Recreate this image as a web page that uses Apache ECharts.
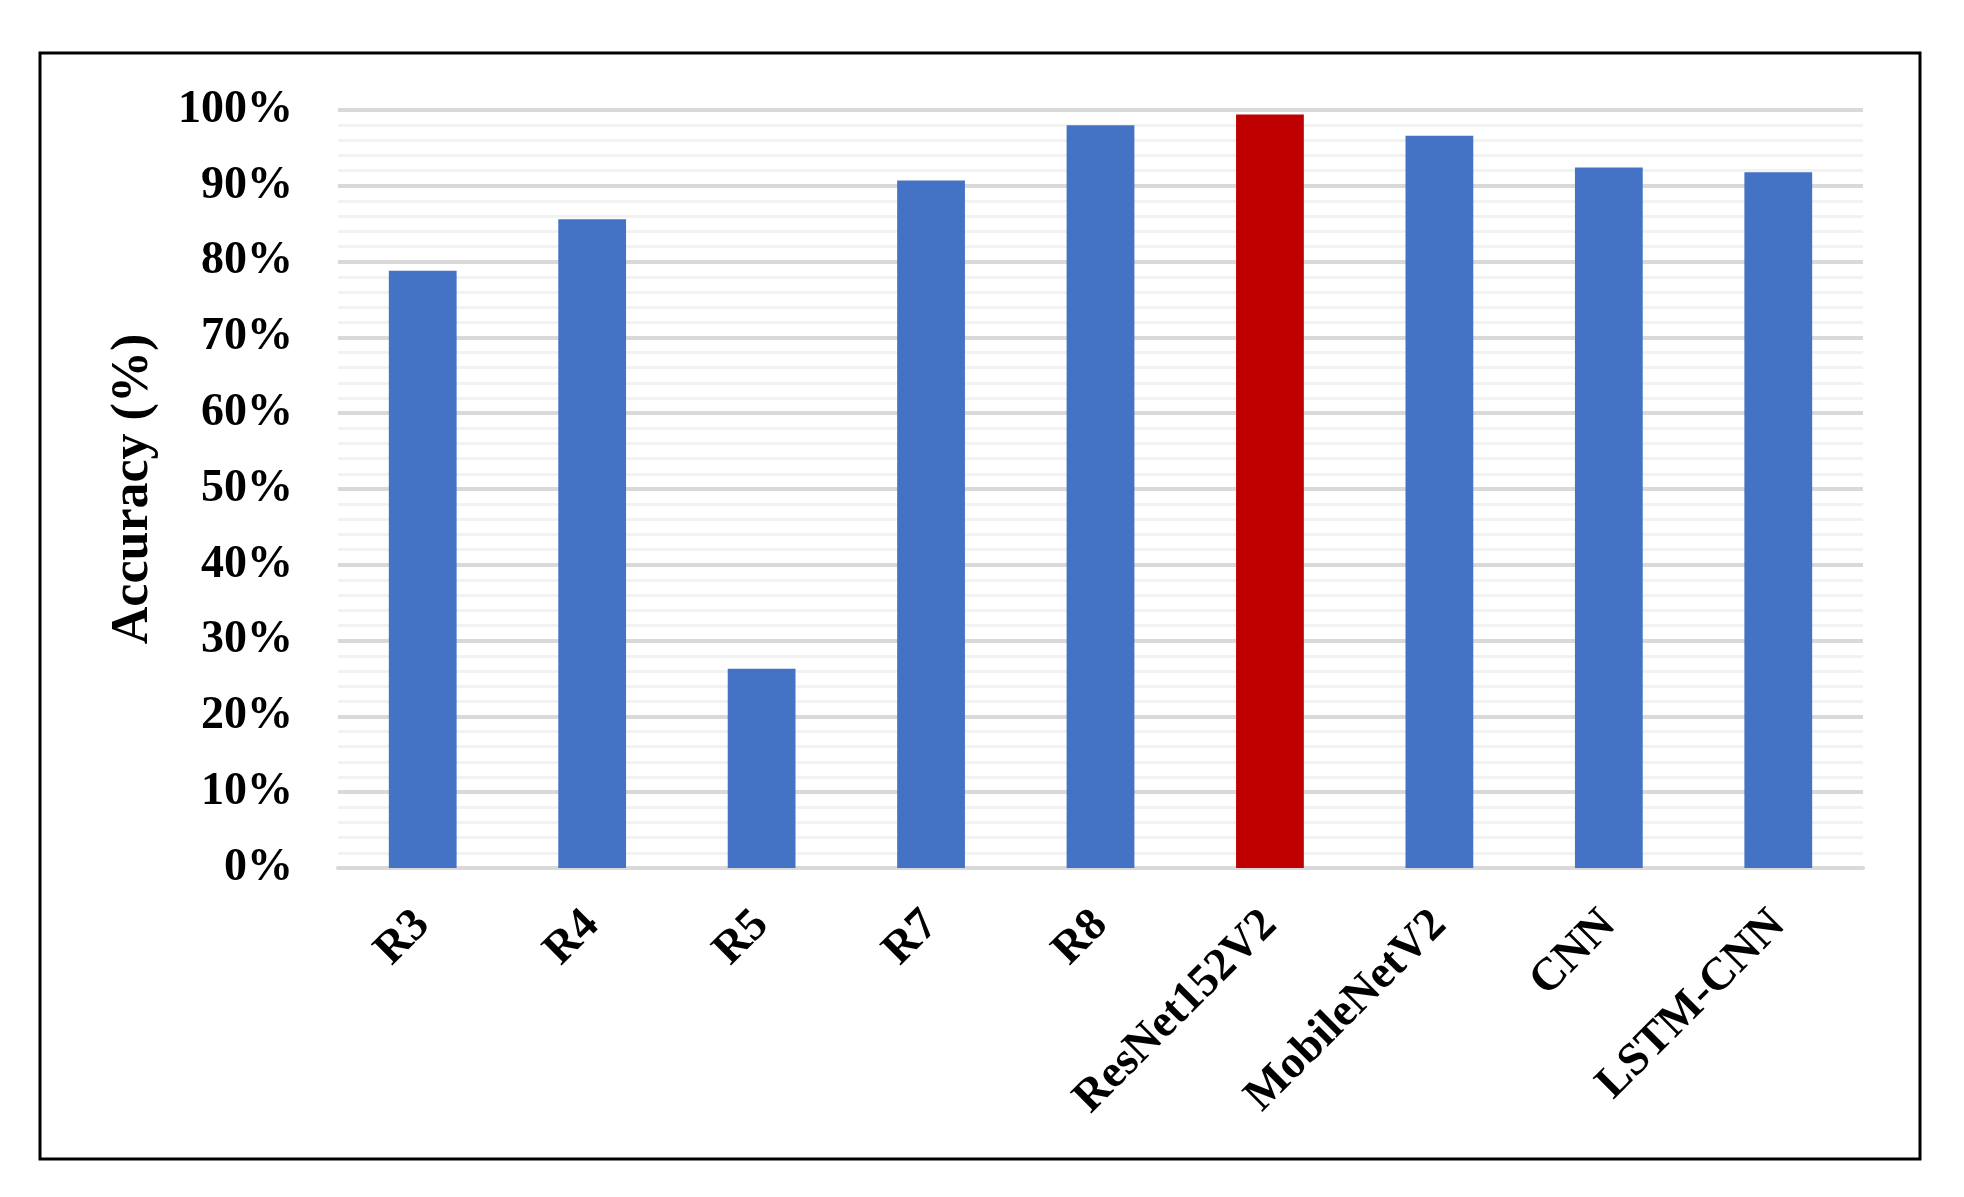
<!DOCTYPE html>
<html>
<head>
	<meta charset="utf-8" />
	<title>Accuracy</title>
	<script src="https://cdn.jsdelivr.net/npm/echarts@6/dist/echarts.min.js"></script>
	<style>
		html, body { margin: 0; padding: 0; background: #fff; }
		#chart { width: 1964px; height: 1197px; }
	</style>
</head>
<body>
<div id="chart"></div>
<script type="text/javascript">
	// model names and accuracy (%)
	var models = ['R3', 'R4', 'R5', 'R7', 'R8', 'ResNet152V2', 'MobileNetV2', 'CNN', 'LSTM-CNN'];
	var accuracy = [78.8, 85.6, 26.3, 90.7, 98.0, 99.4, 96.6, 92.4, 91.8];
	var bestModel = 'ResNet152V2';

	var font = '"Times New Roman", "Liberation Serif", serif';

	var barData = accuracy.map(function (v, i) {
		return {
			value: v,
			itemStyle: { color: models[i] === bestModel ? '#C00000' : '#4472C4' }
		};
	});

	var myChart = echarts.init(document.getElementById('chart'));
	var option = {
		backgroundColor: '#fff',
		animation: false,
		graphic: [{
			type: 'rect',
			shape: { x: 40, y: 53, width: 1880, height: 1106 },
			style: { fill: 'none', stroke: '#000', lineWidth: 3 }
		}],
		grid: { left: 338, right: 101, top: 110, bottom: 329 },
		xAxis: {
			type: 'category',
			data: models,
			axisLine: { lineStyle: { color: '#d9d9d9', width: 4 } },
			axisTick: { show: false },
			axisLabel: {
				rotate: 45,
				margin: 50,
				interval: 0,
				color: '#000',
				fontFamily: font,
				fontWeight: 'bold',
				fontSize: 46
			}
		},
		yAxis: {
			type: 'value',
			min: 0,
			max: 100,
			interval: 10,
			name: 'Accuracy (%)',
			nameLocation: 'middle',
			nameGap: 178,
			nameTextStyle: { color: '#000', fontFamily: font, fontWeight: 'bold', fontSize: 52 },
			axisLine: { show: false },
			axisTick: { show: false },
			axisLabel: {
				formatter: '{value}%',
				margin: 45,
				color: '#000',
				fontFamily: font,
				fontWeight: 'bold',
				fontSize: 46
			},
			splitLine: { lineStyle: { color: '#d9d9d9', width: 4 } },
			minorTick: { show: false, splitNumber: 5 },
			minorSplitLine: { show: true, lineStyle: { color: '#f2f2f2', width: 3 } }
		},
		series: [{
			type: 'bar',
			barWidth: '40%',
			data: barData
		}]
	};
	myChart.setOption(option);
</script>
</body>
</html>
